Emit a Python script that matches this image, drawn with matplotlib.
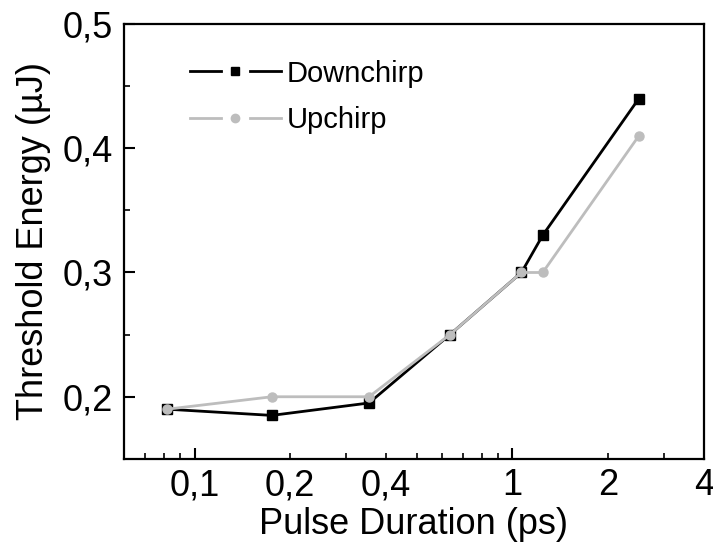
import matplotlib
matplotlib.use("Agg")
import matplotlib.pyplot as plt
from matplotlib.lines import Line2D
from matplotlib.legend_handler import HandlerBase
from matplotlib.ticker import FixedLocator, FixedFormatter, NullFormatter

# Data
pulse_duration = [0.082, 0.175, 0.354, 0.636, 1.068, 1.246, 2.5]
downchirp = [0.19, 0.185, 0.195, 0.25, 0.30, 0.33, 0.44]
upchirp = [0.19, 0.20, 0.20, 0.25, 0.30, 0.30, 0.41]
x_tick_values = [0.1, 0.2, 0.4, 1, 2, 4]
x_tick_labels = ["0,1", "0,2", "0,4", "1", "2", "4"]
y_tick_values = [0.2, 0.3, 0.4, 0.5]
y_tick_labels = ["0,2", "0,3", "0,4", "0,5"]

plt.rcParams['font.family'] = ['Liberation Sans', 'DejaVu Sans']

BLACK = '#000000'
GRAY = '#bdbdbd'

fig = plt.figure(figsize=(7.13, 5.45), dpi=100)
ax = fig.add_axes([0.174, 0.158, 0.813, 0.798])

ax.plot(pulse_duration, downchirp, color=BLACK, lw=2.0, marker='s', ms=6.5,
        mec=BLACK, mfc=BLACK, label='Downchirp', zorder=3)
ax.plot(pulse_duration, upchirp, color=GRAY, lw=2.0, marker='o', ms=6.5,
        mec=GRAY, mfc=GRAY, label='Upchirp', zorder=4)

ax.set_xscale('log')
ax.set_xlim(0.06, 4.0)
ax.set_ylim(0.15, 0.5)

# x ticks: majors at decades, minors elsewhere; labels at chosen values
ax.xaxis.set_major_locator(FixedLocator([0.1, 1]))
minor_x = [0.07, 0.08, 0.09, 0.2, 0.3, 0.4, 0.5, 0.6, 0.7, 0.8, 0.9, 2, 3]
ax.xaxis.set_minor_locator(FixedLocator(minor_x))
ax.xaxis.set_major_formatter(NullFormatter())
ax.xaxis.set_minor_formatter(NullFormatter())
for v, lab in zip(x_tick_values, x_tick_labels):
    ax.text(v, -0.022, lab, transform=ax.get_xaxis_transform(), ha='center',
            va='top', fontsize=26)

ax.yaxis.set_major_locator(FixedLocator(y_tick_values))
ax.yaxis.set_major_formatter(FixedFormatter(y_tick_labels))
ax.yaxis.set_minor_locator(FixedLocator([0.25, 0.35, 0.45]))

ax.tick_params(axis='both', which='major', direction='in', length=8, width=1.5,
               labelsize=26, top=False, right=False)
ax.tick_params(axis='both', which='minor', direction='in', length=4.5, width=1.2,
               top=False, right=False)
ax.tick_params(axis='y', which='major', pad=8)

for sp in ax.spines.values():
    sp.set_linewidth(1.6)

ax.set_xlabel('Pulse Duration (ps)', fontsize=26, labelpad=31)
ax.set_ylabel('Threshold Energy (µJ)', fontsize=26, labelpad=8)


class GapHandler(HandlerBase):
    def create_artists(self, legend, orig_handle, xdescent, ydescent, width,
                       height, fontsize, trans):
        y = height / 2 - ydescent
        x0 = -xdescent
        g = width * 0.16
        c = orig_handle.get_color()
        l1 = Line2D([x0, x0 + width / 2 - g], [y, y], color=c, lw=2.0)
        l2 = Line2D([x0 + width / 2 + g, x0 + width], [y, y], color=c, lw=2.0)
        m = Line2D([x0 + width / 2], [y], ls='none',
                   marker=orig_handle.get_marker(), ms=6,
                   mfc=orig_handle.get_markerfacecolor(),
                   mec=orig_handle.get_markeredgecolor())
        for a in (l1, l2, m):
            a.set_transform(trans)
        return [l1, l2, m]


handles, labels = ax.get_legend_handles_labels()
ax.legend(handles, labels, handler_map={Line2D: GapHandler()},
          loc='upper left', bbox_to_anchor=(0.114, 0.918), frameon=False,
          fontsize=21, handlelength=3.1, handletextpad=0.2, labelspacing=0.62,
          borderpad=0, borderaxespad=0)

fig.savefig('out.png', dpi=100)
